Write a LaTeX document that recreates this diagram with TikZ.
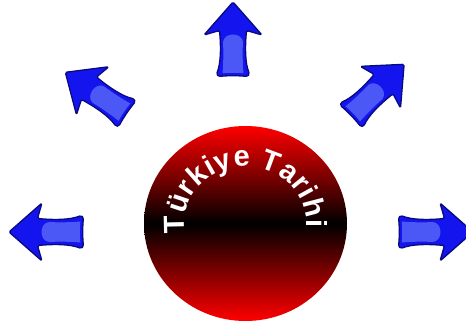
\documentclass[tikz,border=0pt]{standalone}
\usepackage{fontspec}
\newfontfamily\titlefont{Liberation Sans}
\usetikzlibrary{decorations.text,shapes.geometric}
\definecolor{arrowblue}{HTML}{1414EE}
\definecolor{arrowlight}{HTML}{4B58F6}
\definecolor{arrowline}{HTML}{0A0A80}
\newcommand\arcfont{\titlefont\bfseries\fontsize{29}{34}\selectfont\color{white}}
\tikzset{
  blockarrow/.pic={
    \path[draw=arrowline, line width=1.3pt, fill=arrowblue, rounded corners=1.5pt, line join=round]
      (0,37) -- (29,4) -- (13.5,8.5)
      .. controls (12,-8) and (12,-24) .. (16.5,-35)
      -- (14.5,-37.5) .. controls (5,-36.5) and (-5,-36.5) .. (-14.5,-37.5)
      -- (-16.5,-35) .. controls (-12,-24) and (-12,-8) .. (-13.5,8.5)
      -- (-29,4) -- cycle;
    \fill[arrowlight] (-10.5,-34.3) .. controls (-9.5,-24) and (-9.5,-10) .. (-10,-3)
      .. controls (-9,7) and (9,7) .. (10,-3)
      .. controls (9.5,-10) and (9.5,-24) .. (10.5,-34.3)
      .. controls (4,-33.6) and (-4,-33.6) .. (-10.5,-34.3) -- cycle;
  },
  ball/.style={ellipse, minimum width=203pt, minimum height=195pt, inner sep=0pt,
    top color=red, bottom color=red, middle color=black},
}
\begin{document}
\begin{tikzpicture}[x=1pt,y=1pt]
\useasboundingbox (0,0) rectangle (466,327);
\clip (0,0) rectangle (466,327);
\node[ball] (globe) at (245.5,103.5) {};
\begin{scope}[shift={(245.5,103.5)}]
\path[decorate, decoration={text along path,
  text={|\arcfont|Türkiye Tarihi},
  text align=fit to path}]
  (190:61 and 57) arc[start angle=190, end angle=-4, x radius=61, y radius=57];
\end{scope}
\pic[rotate=0] (atop) at (233,288) {blockarrow};
\pic[rotate=56] (aul) at (96,234) {blockarrow};
\pic[rotate=-46] (aur) at (377.5,237) {blockarrow};
\pic[rotate=90] (aleft) at (46,95) {blockarrow};
\pic[rotate=-90] (aright) at (436,95) {blockarrow};
\end{tikzpicture}
\end{document}
